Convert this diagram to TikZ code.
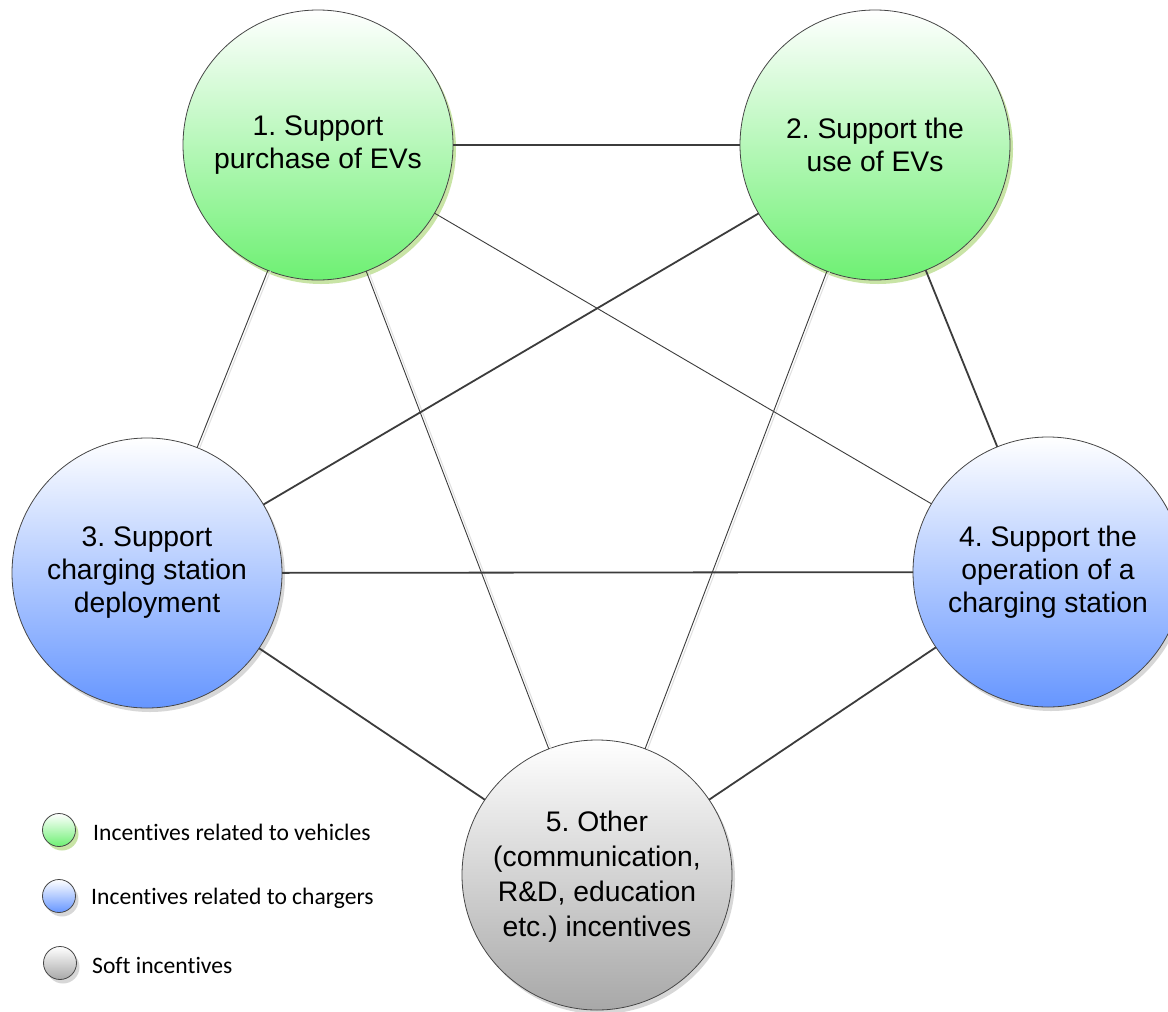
\documentclass[tikz,border=0pt]{standalone}
\usepackage{fontspec}
\setmainfont{Liberation Sans}
\newfontfamily\legendfont[RawFeature=-liga]{Carlito}
\usetikzlibrary{shadows}
\frenchspacing

\definecolor{greenbot}{RGB}{110,240,115}
\definecolor{bluebot}{RGB}{102,150,255}
\definecolor{greybot}{RGB}{168,168,168}
\definecolor{greenshadow}{RGB}{200,228,165}
\definecolor{greyshadow}{RGB}{215,215,215}
\definecolor{linegrey}{RGB}{60,60,60}
\definecolor{edgegrey}{RGB}{70,70,70}

\tikzset{
  bubble/.style={circle, minimum size=270pt, inner sep=0pt, outer sep=0pt,
    draw=edgegrey, line width=0.8pt, align=center,
    font=\fontsize{28.3}{33}\selectfont},
  dot/.style={circle, minimum size=33pt, inner sep=0pt, outer sep=0pt,
    draw=edgegrey, line width=0.8pt},
  vehicle/.style={top color=white, bottom color=greenbot,
    drop shadow={shadow xshift=3pt, shadow yshift=-4pt, fill=greenshadow, opacity=1}},
  charger/.style={top color=white, bottom color=bluebot,
    drop shadow={shadow xshift=3pt, shadow yshift=-4pt, fill=greyshadow, opacity=1}},
  soft/.style={top color=white, bottom color=greybot,
    drop shadow={shadow xshift=3pt, shadow yshift=-4pt, fill=greyshadow, opacity=1}},
  strong/.style={draw=linegrey, line width=1.8pt},
  weak/.style={draw=linegrey, line width=0.9pt},
  weakshade/.style={draw=black!12, line width=1pt, transform canvas={xshift=2.5pt, yshift=-0.5pt}},
  legendtext/.style={anchor=west, inner sep=0pt, font=\legendfont\fontsize{23.6}{28}\selectfont}
}

\begin{document}
\begin{tikzpicture}[x=1pt, y=-1pt]
\useasboundingbox (0,0) rectangle (1168,1012);
\clip (0,0) rectangle (1168,1012);
\fill[white] (0,0) rectangle (1168,1012);

% policy groups
\node[bubble, vehicle] (c1) at (318,145) {1. Support\\purchase of EVs};
\node[bubble, vehicle] (c2) at (875,145) {2. Support the\\use of EVs};
\node[bubble, charger] (c3) at (147,573) {3. Support\\charging station\\deployment};
\node[bubble, charger] (c4) at (1048,572) {4. Support the\\operation of a\\charging station};
\node[bubble, soft] (c5) at (597,875) {};
\node[align=center, font=\fontsize{28.3}{35}\selectfont] (t5) at (597,877)
  {5. Other\\(communication,\\R\&D, education\\etc.) incentives};

% faint doubles of the thin links
\path[weakshade] (c1) -- (c3);
\path[weakshade] (c1) -- (c5);
\path[weakshade] (c2) -- (c5);

% links between groups
\path[strong] (c1) -- (c2);
\path[weak]   (c1) -- (c3);
\path[weak]   (c1) -- (c4);
\path[weak]   (c1) -- (c5);
\path[strong] (c2) -- (c3);
\path[strong] (c2) -- (c4);
\path[weak]   (c2) -- (c5);
\path[strong] (c3) -- (c4);
\path[strong] (c3) -- (c5);
\path[strong] (c4) -- (c5);

% legend
\node[dot, vehicle] (l1) at (59,830) {};
\node[dot, charger] (l2) at (59,896) {};
\node[dot, soft]    (l3) at (60,963) {};
\node[legendtext] (lt1) at (93,832) {Incentives related to vehicles};
\node[legendtext] (lt2) at (91,898) {Incentives related to chargers};
\node[legendtext] (lt3) at (92,965) {Soft incentives};
\end{tikzpicture}
\end{document}
